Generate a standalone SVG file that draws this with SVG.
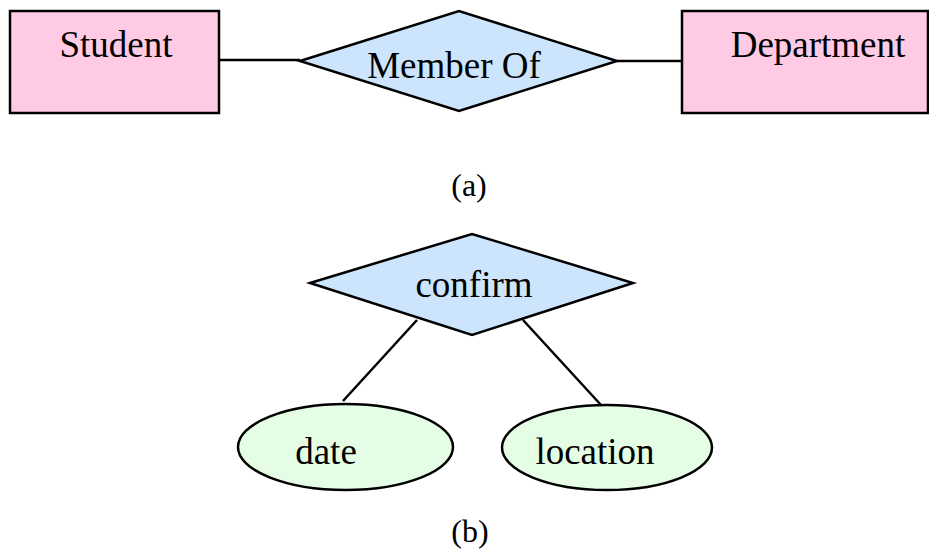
<svg xmlns="http://www.w3.org/2000/svg" width="929" height="549" viewBox="0 0 929 549">
<style>
.ent{fill:#ffcae4;stroke:#000;stroke-width:2.5}
.rel{fill:#cce5fc;stroke:#000;stroke-width:2.5}
.att{fill:#e4fde4;stroke:#000;stroke-width:2.5}
.edge{stroke:#000;stroke-width:2.5;fill:none}
text{font-family:"Liberation Serif","Times New Roman",serif;fill:#000;text-anchor:middle}
.lbl{font-size:37px}
.cap{font-size:32px}
</style>
<rect width="929" height="549" fill="#fff"/>
<g id="connectors">
<line class="edge" x1="219" y1="60" x2="300" y2="60"/>
<line class="edge" x1="617" y1="61" x2="682" y2="61"/>
<line class="edge" x1="417" y1="320" x2="343" y2="401"/>
<line class="edge" x1="523" y1="320" x2="601" y2="405"/>
</g>
<g id="student">
<rect class="ent" x="10" y="11" width="209" height="102"/>
<text class="lbl" x="116" y="57">Student</text>
</g>
<g id="memberof">
<polygon class="rel" points="300,61 459,11 617,61 459,111"/>
<text class="lbl" x="454" y="78">Member Of</text>
</g>
<g id="department">
<rect class="ent" x="682" y="11" width="246" height="102"/>
<text class="lbl" x="818" y="57">Department</text>
</g>
<text class="cap" x="469" y="196">(a)</text>
<g id="confirm">
<polygon class="rel" points="310,283 472,234 633,283 472,335"/>
<text class="lbl" x="474" y="297">confirm</text>
</g>
<g id="date">
<ellipse class="att" cx="345.5" cy="447" rx="107.5" ry="43"/>
<text class="lbl" x="326" y="464">date</text>
</g>
<g id="location">
<ellipse class="att" cx="607" cy="447.5" rx="105" ry="42.5"/>
<text class="lbl" x="595" y="464">location</text>
</g>
<text class="cap" x="470" y="542">(b)</text>
</svg>
